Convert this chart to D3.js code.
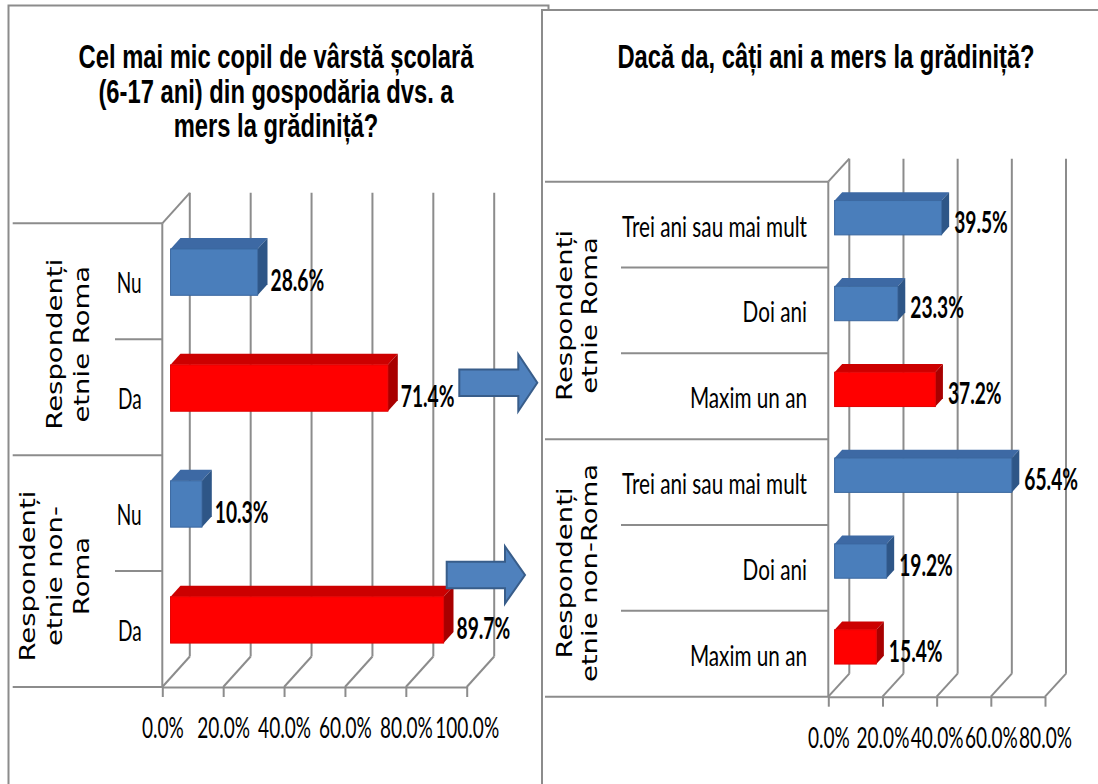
<!DOCTYPE html>
<html><head><meta charset="utf-8">
<script src="https://cdn.jsdelivr.net/npm/d3@7"></script>
<style>body{margin:0;background:#fff;} svg{display:block;}</style>
</head><body>
<svg id="c" width="1098" height="784"></svg>
<script>
// ---------- data ----------
const leftTitle = ["Cel mai mic copil de vârstă școlară", "(6-17 ani) din gospodăria dvs. a", "mers la grădiniță?"];
const leftGroups = [["Respondenți", "etnie Roma"], ["Respondenți", "etnie non-", "Roma"]];
const leftCategories = ["Nu", "Da"];
const leftValues = [[28.6, 71.4], [10.3, 89.7]];
const leftTicks = [0, 20, 40, 60, 80, 100];

const rightTitle = ["Dacă da, câți ani a mers la grădiniță?"];
const rightGroups = [["Respondenți", "etnie Roma"], ["Respondenți", "etnie non-Roma"]];
const rightCategories = ["Trei ani sau mai mult", "Doi ani", "Maxim un an"];
const rightValues = [[39.5, 23.3, 37.2], [65.4, 19.2, 15.4]];
const rightTicks = [0, 20, 40, 60, 80];

const redCategories = ["Da", "Maxim un an"];

// ---------- styling / layout ----------
const SX = 0.68;              // horizontal squeeze of glyphs
const GRID = "#8c8c8c";
const palette = {
  blue: {front: "#4a7ebb", top: "#3d69a4", side: "#2e5687", edge: "#3a679f"},
  red:  {front: "#ff0000", top: "#cc0000", side: "#a80000", edge: "#e00000"}
};

const svg = d3.select("#c");

// frames
svg.append("rect").attr("x", 8.5).attr("y", 5.5).attr("width", 540).attr("height", 820)
  .attr("fill", "#fff").attr("stroke", "#8c8c8c").attr("stroke-width", 2);
svg.append("rect").attr("x", 542).attr("y", 10).attr("width", 620).attr("height", 820)
  .attr("fill", "#fff").attr("stroke", "#8c8c8c").attr("stroke-width", 2);

function sqText(g, x, y, txt, opts) {
  return g.append("text")
    .attr("transform", `translate(${x},${y}) scale(${opts.sx ?? SX},1)`)
    .attr("text-anchor", opts.anchor || "start")
    .attr("font-family", opts.family || "Lato, 'Open Sans', sans-serif")
    .attr("font-size", opts.size || 28)
    .attr("font-weight", opts.weight || "normal")
    .attr("fill", "#000")
    .text(txt);
}

function drawChart(cfg) {
  const g = svg.append("g");
  const x = d3.scaleLinear().domain([0, cfg.max]).range([cfg.x0, cfg.x1]);
  const keys = [];
  cfg.groups.forEach((gr, gi) => cfg.categories.forEach((c, ci) => keys.push(gi + "|" + ci)));
  const y = d3.scaleBand().domain(keys).range([cfg.top, cfg.bottom]).padding(0);
  const bw = y.bandwidth();
  const dx = cfg.dx, dy = cfg.dy;

  // title
  cfg.title.forEach((line, i) => {
    sqText(g, cfg.titleX, cfg.titleY + i * cfg.titleStep, line,
      {anchor: "middle", family: "'Liberation Sans', Arial, sans-serif", size: cfg.titleSize, weight: "bold", sx: cfg.titleSX});
  });

  const line = (x1, y1, x2, y2, w) => g.append("line")
    .attr("x1", x1).attr("y1", y1).attr("x2", x2).attr("y2", y2)
    .attr("stroke", GRID).attr("stroke-width", w || 2);

  // back wall gridlines
  cfg.ticks.forEach(t => line(x(t) + dx, cfg.top + dy, x(t) + dx, cfg.bottom + dy));
  // floor diagonals
  cfg.ticks.forEach(t => line(x(t), cfg.bottom, x(t) + dx, cfg.bottom + dy));
  // side wall top edge
  line(cfg.x0, cfg.top, cfg.x0 + dx, cfg.top + dy);
  // front vertical axis
  line(cfg.x0, cfg.top, cfg.x0, cfg.bottom);

  // bottom axis via d3
  const ax = g.append("g").attr("transform", `translate(0,${cfg.bottom})`)
    .call(d3.axisBottom(x).tickValues(cfg.ticks).tickSize(10).tickSizeOuter(0)
      .tickFormat(d => d.toFixed(1) + "%"));
  ax.select(".domain").attr("stroke", GRID).attr("stroke-width", 2);
  ax.selectAll(".tick line").attr("stroke", GRID).attr("stroke-width", 2);
  ax.selectAll(".tick text")
    .attr("y", cfg.tickBaseline - cfg.bottom).attr("dy", 0)
    .attr("transform", `scale(${SX},1)`)
    .attr("font-family", "Lato, 'Open Sans', sans-serif")
    .attr("font-size", 28).attr("fill", "#000");

  // category separators
  cfg.groups.forEach((gr, gi) => {
    cfg.categories.forEach((c, ci) => {
      const yy = y(gi + "|" + ci);
      if (ci === 0) line(cfg.groupLineX, yy, cfg.x0, yy);
      else line(cfg.innerLineX, yy, cfg.x0, yy);
    });
  });
  line(cfg.groupLineX, cfg.bottom, cfg.x0, cfg.bottom);

  // bars
  const f0 = 0.3, f1 = 0.66, hf = 0.4;
  const ox = f0 * dx, oy = f0 * dy, ddx = (f1 - f0) * dx, ddy = (f1 - f0) * dy;
  cfg.groups.forEach((gr, gi) => {
    cfg.categories.forEach((c, ci) => {
      const v = cfg.values[gi][ci];
      const col = redCategories.includes(c) ? palette.red : palette.blue;
      const cy = y(gi + "|" + ci) + bw / 2;
      const h = bw * hf;
      const fx = x(0) + ox, fy = cy + oy - h / 2;
      const w = x(v) - x(0);
      const poly = pts => pts.map(p => p.join(",")).join(" ");
      g.append("polygon").attr("points", poly([[fx, fy], [fx + w, fy], [fx + w + ddx, fy + ddy], [fx + ddx, fy + ddy]]))
        .attr("fill", col.top);
      g.append("polygon").attr("points", poly([[fx + w, fy], [fx + w + ddx, fy + ddy], [fx + w + ddx, fy + h + ddy], [fx + w, fy + h]]))
        .attr("fill", col.side);
      g.append("rect").attr("x", fx).attr("y", fy).attr("width", w).attr("height", h)
        .attr("fill", col.front).attr("stroke", col.edge).attr("stroke-width", 1);
      // value label
      sqText(g, fx + w + ddx + cfg.labelGap, cy + cfg.labelDy + 11, v.toFixed(1) + "%",
        {weight: "bold", size: 30, sx: 0.64});
      // category label
      sqText(g, cfg.catLabelX, cy + cfg.catDy, c, {anchor: "end", size: cfg.catSize, sx: cfg.catSX});
    });
    // group label (rotated)
    const gTop = y(gi + "|0"), gBot = y(gi + "|" + (cfg.categories.length - 1)) + bw;
    const gc = (gTop + gBot) / 2 + 5;
    const n = gr.length;
    gr.forEach((txt, li) => {
      const lx = cfg.groupLastX - (n - 1 - li) * cfg.groupStep + 7;
      g.append("text")
        .attr("transform", `translate(${lx},${gc}) scale(0.75,1) rotate(-90)`)
        .attr("text-anchor", "middle")
        .attr("font-family", "'DejaVu Sans', Verdana, sans-serif")
        .attr("font-size", 27.5).attr("fill", "#000")
        .text(txt);
    });
  });
}

drawChart({
  title: leftTitle, groups: leftGroups, categories: leftCategories, values: leftValues, ticks: leftTicks,
  max: 100, x0: 162.3, x1: 466.7, top: 223.3, bottom: 687, dx: 27.5, dy: -30.5,
  groupLineX: 12.7, innerLineX: 115, catLabelX: 141.7, catDy: 12, catSize: 28, catSX: 0.68, tickBaseline: 738,
  groupLastX: 82, groupStep: 27, labelGap: 3, labelDy: -1,
  titleX: 276, titleY: 68, titleStep: 34.5, titleSize: 33, titleSX: 0.72
});
drawChart({
  title: rightTitle, groups: rightGroups, categories: rightCategories, values: rightValues, ticks: rightTicks,
  max: 80, x0: 828.3, x1: 1045, top: 181.7, bottom: 696.7, dx: 21, dy: -23,
  groupLineX: 545, innerLineX: 621, catLabelX: 807, catDy: 12, catSize: 28, catSX: 0.74, tickBaseline: 748,
  groupLastX: 590, groupStep: 25, labelGap: 5, labelDy: -3,
  titleX: 826, titleY: 68, titleStep: 34.5, titleSize: 33, titleSX: 0.72
});

// connector arrows (annotations)
const arrows = [
  {xs: 459.3, xh: 518.3, tip: 537.3, cy: 382.7},
  {xs: 446.7, xh: 505, tip: 525, cy: 575}
];
const bodyHalf = 13.3, headHalf = 28.5;
svg.selectAll("path.arrow").data(arrows).join("path").attr("class", "arrow")
  .attr("d", a => d3.line()([
    [a.xs, a.cy - bodyHalf], [a.xh, a.cy - bodyHalf], [a.xh, a.cy - headHalf], [a.tip, a.cy],
    [a.xh, a.cy + headHalf], [a.xh, a.cy + bodyHalf], [a.xs, a.cy + bodyHalf]]) + "Z")
  .attr("fill", "#4f81bd").attr("stroke", "#385d8a").attr("stroke-width", 2);
</script>
</body></html>
